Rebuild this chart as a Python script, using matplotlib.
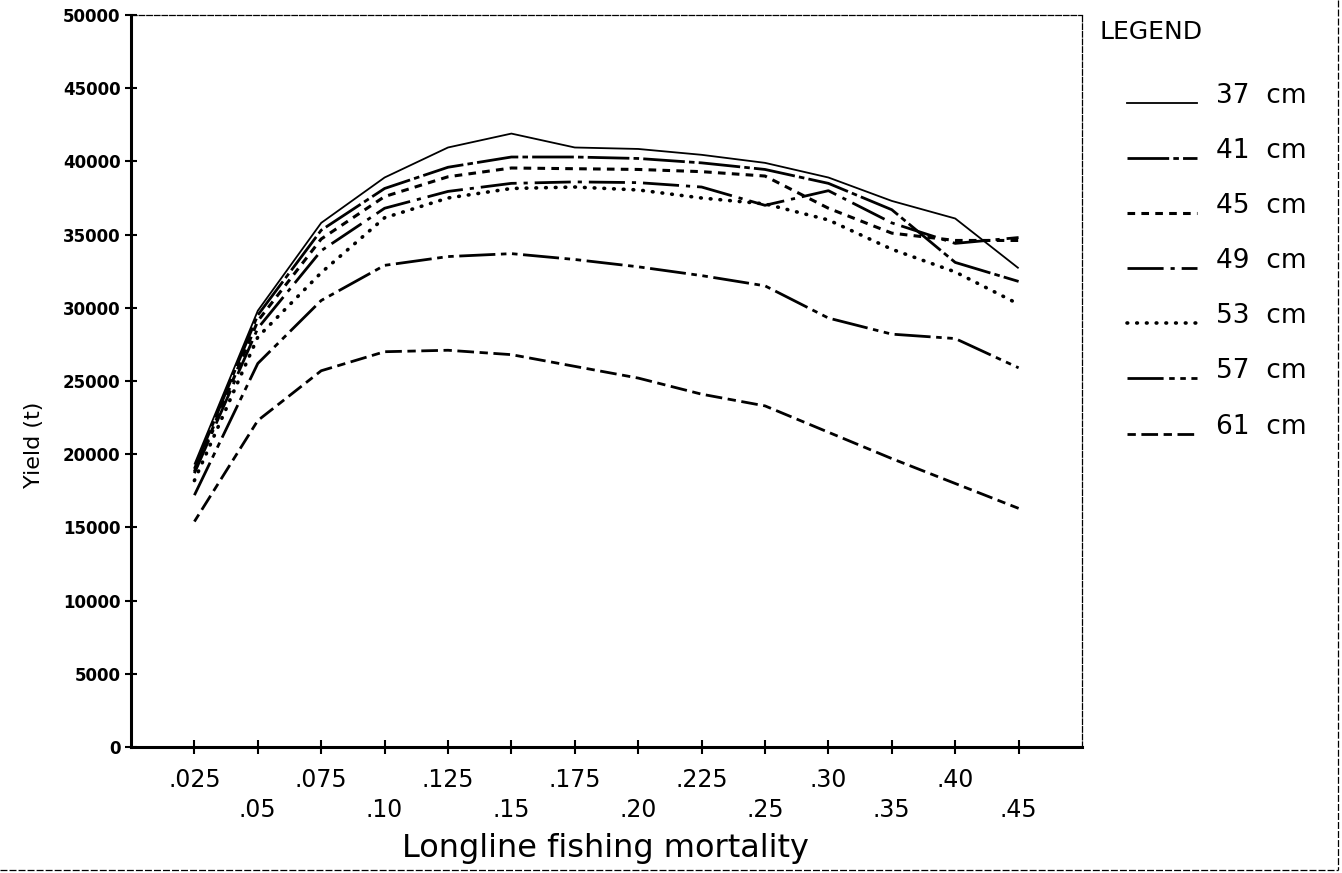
import matplotlib
matplotlib.use("Agg")
import matplotlib.pyplot as plt
from matplotlib.lines import Line2D

# longline fishing mortality levels (x categories)
mortality = ['.025', '.05', '.075', '.10', '.125', '.15', '.175',
             '.20', '.225', '.25', '.30', '.35', '.40', '.45']

# yield (t) for each minimum size limit
yield_37 = [19300, 29800, 35800, 38900, 40950, 41900, 40950, 40850, 40450, 39900, 38900, 37300, 36100, 32700]
yield_41 = [19000, 29500, 35300, 38150, 39600, 40300, 40300, 40200, 39900, 39450, 38500, 36700, 33100, 31800]
yield_45 = [18800, 29100, 34700, 37600, 38950, 39550, 39500, 39450, 39300, 39000, 36800, 35100, 34600, 34600]
yield_49 = [18700, 28600, 33900, 36800, 37950, 38500, 38600, 38550, 38250, 37000, 38000, 35800, 34400, 34800]
yield_53 = [18200, 28000, 32400, 36150, 37500, 38150, 38250, 38050, 37500, 37100, 36000, 34000, 32450, 30250]
yield_57 = [17200, 26200, 30500, 32900, 33500, 33700, 33300, 32800, 32200, 31500, 29300, 28200, 27900, 25900]
yield_61 = [15400, 22300, 25700, 27000, 27100, 26800, 26000, 25200, 24100, 23300, 21500, 19700, 18000, 16300]

size_labels = ['37 cm', '41 cm', '45 cm', '49 cm', '53 cm', '57 cm', '61 cm']
series = [yield_37, yield_41, yield_45, yield_49, yield_53, yield_57, yield_61]

plt.rcParams['font.family'] = ['DejaVu Sans']
plt.rcParams['lines.scale_dashes'] = False

# line styles (dash patterns in points)
styles = [
    dict(linestyle='-', lw=1.3),
    dict(linestyle=(0, (30, 3, 4, 3)), lw=2.0),
    dict(linestyle=(0, (5.5, 4.5)), lw=2.2),
    dict(linestyle=(0, (26, 5, 3, 5)), lw=2.0),
    dict(linestyle=(0, (0.5, 6.5)), lw=2.6, dash_capstyle='round'),
    dict(linestyle=(0, (26, 4, 4, 4, 4, 4)), lw=2.0),
    dict(linestyle=(0, (6, 4, 12, 4)), lw=2.0),
]

W, H = 1342, 873
fig = plt.figure(figsize=(W / 100, H / 100), dpi=100)
ax = fig.add_axes([131 / W, (H - 747) / H, (1082 - 131) / W, (747 - 15) / H])

xpos = list(range(1, len(mortality) + 1))
for vals, st in zip(series, styles):
    ax.plot(xpos, vals, color='black', solid_capstyle='butt', **st)

ax.set_xlim(0, len(mortality) + 1)
ax.set_ylim(0, 50000)

ax.set_yticks(range(0, 50001, 5000))
ax.set_yticklabels([str(v) for v in range(0, 50001, 5000)],
                   fontsize=12, fontweight='bold')
ax.tick_params(axis='y', direction='inout', length=9, width=1.5, pad=3)

# staggered x tick labels on two rows
ax.set_xticks(xpos)
ax.set_xticklabels([lab if i % 2 == 0 else '\n' + lab for i, lab in enumerate(mortality)],
                   fontsize=17, linespacing=1.3)
ax.tick_params(axis='x', direction='inout', length=10, width=1.5, pad=10)

ax.spines['left'].set_linewidth(2.2)
ax.spines['bottom'].set_linewidth(2.2)
for side in ('top', 'right'):
    ax.spines[side].set_linewidth(0.9)
    ax.spines[side].set_linestyle((0, (4, 1.5)))

fig.text(606 / W, 1 - 848 / H, 'Longline fishing mortality', fontsize=23,
         ha='center', va='center')
fig.text(34 / W, 1 - 445 / H, 'Yield (t)', rotation=90, fontsize=16,
         ha='center', va='center')

# legend panel on the right
leg = fig.add_axes([0, 0, 1, 1], facecolor='none')
leg.set_xlim(0, W)
leg.set_ylim(H, 0)
leg.axis('off')
leg.text(1100, 32, 'LEGEND', fontsize=18, va='center', ha='left')
row_y = [96, 151, 206, 261, 316, 371, 427]
for lab, st, yy in zip(size_labels, styles, row_y):
    leg.add_line(Line2D([1127, 1197], [yy + 7, yy + 7], color='black', **st))
    leg.text(1216, yy, lab.replace(' ', '  '), fontsize=19, va='center', ha='left')

# outer frame edges
leg.add_line(Line2D([1338, 1338], [0, 870], color='black', lw=0.9, linestyle=(0, (5, 1.5))))
leg.add_line(Line2D([0, 1338], [870, 870], color='black', lw=0.9, linestyle=(0, (5, 1.5))))

fig.savefig('out.png', dpi=100, facecolor='white')
